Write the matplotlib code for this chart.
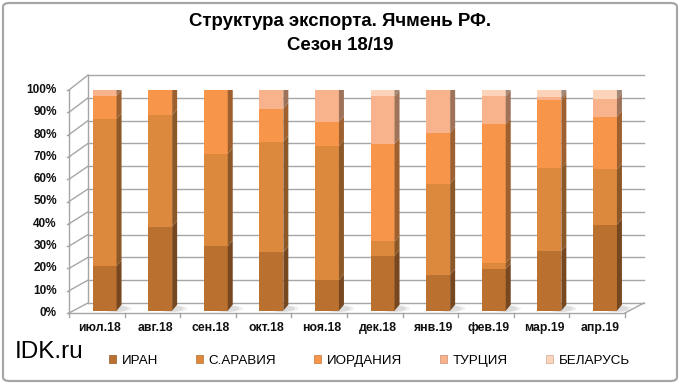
import numpy as np
import matplotlib
matplotlib.use('Agg')
import matplotlib.pyplot as plt
from matplotlib.patches import Polygon, Patch, FancyBboxPatch, Ellipse
from matplotlib.colors import to_rgb

plt.rcParams['font.family'] = ['Liberation Sans', 'DejaVu Sans']

# data (share of exports, %)
months = ['июл.18', 'авг.18', 'сен.18', 'окт.18', 'ноя.18',
          'дек.18', 'янв.19', 'фев.19', 'мар.19', 'апр.19']
iran = [19.8, 37.3, 28.6, 26.0, 13.6, 24.4, 16.0, 18.5, 26.4, 38.2]
saudi = [65.2, 49.4, 41.0, 49.0, 59.4, 6.3, 40.3, 2.7, 36.9, 24.5]
jordan = [10.3, 12.3, 30.0, 14.6, 10.7, 43.3, 22.5, 61.5, 30.0, 23.3]
turkey = [4.7, 1.0, 0.4, 8.2, 15.3, 21.0, 19.2, 12.3, 1.5, 7.8]
belarus = [0.0, 0.0, 0.0, 2.2, 1.0, 5.0, 2.0, 5.0, 5.2, 6.2]
series_names = ['ИРАН', 'С.АРАВИЯ', 'ИОРДАНИЯ', 'ТУРЦИЯ', 'БЕЛАРУСЬ']
yticks = [0, 10, 20, 30, 40, 50, 60, 70, 80, 90, 100]

colors = ['#BA7130', '#DC893E', '#F7964A', '#F9B38C', '#FCD4BA']

def shade(c, f):
    r, g, b = to_rgb(c)
    return (r * f, g * f, b * f)

W, H = 680, 384
fig = plt.figure(figsize=(W / 100, H / 100), dpi=100)

# outer rounded border
fig.patches.append(FancyBboxPatch((3 / W, 3 / H), 1 - 6 / W, 1 - 6 / H,
                                  boxstyle='round,pad=0,rounding_size=0.01',
                                  transform=fig.transFigure, fill=False,
                                  edgecolor='#A6A6A6', linewidth=1.6))

# front plane of the 3d box: x -0.5..9.5 -> 69..625 px, y 0..1 -> 313..90 px
ax = fig.add_axes([69 / W, (H - 313) / H, 556 / W, 223 / H])
ax.set_xlim(-0.5, 9.5)
ax.set_ylim(0, 1)
ax.axis('off')

n = len(months)
gc = '#A6A6A6'
wdx = 0.342                       # wall depth (x, data units)
def back_y(v):
    return 0.045 + v * 1.022      # back wall height mapping

# back wall gridlines + left wall
for t in yticks:
    v = t / 100
    ax.plot([-0.5 + wdx, n - 0.5 + wdx], [back_y(v)] * 2, color=gc, lw=1, clip_on=False, zorder=1)
    ax.plot([-0.5, -0.5 + wdx], [v, back_y(v)], color=gc, lw=1, clip_on=False, zorder=1)
    ax.plot([-0.5, -0.54], [v, v], color=gc, lw=1, clip_on=False, zorder=1)
    ax.text(-0.72, v, f'{t}%', ha='right', va='center', fontsize=8.5,
            fontweight='bold', color='#111111')
ax.plot([-0.5, -0.5], [0, 1], color=gc, lw=1, clip_on=False, zorder=1)
ax.plot([-0.5 + wdx, -0.5 + wdx], [back_y(0), back_y(1)], color=gc, lw=1, clip_on=False, zorder=1)
# floor
ax.plot([-0.5, n - 0.5], [0, 0], color=gc, lw=1, clip_on=False, zorder=1)
ax.plot([n - 0.5, n - 0.5 + wdx], [0, back_y(0)], color=gc, lw=1, clip_on=False, zorder=1)
for i in range(n + 1):
    ax.plot([i - 0.5, i - 0.5], [0, -0.02], color=gc, lw=1, clip_on=False, zorder=1)

# bars with pseudo 3d faces
x = np.arange(n)
bx = x + 0.14
bw = 0.43
off = 0.01
k = 1.012                         # bar height scale
ddx, ddy = 0.09, 0.027
series = [iran, saudi, jordan, turkey, belarus]

# soft floor shadows
for i in range(n):
    for a, sw in [(0.25, 0.58), (0.35, 0.44)]:
        ax.add_patch(Ellipse((bx[i] + 0.2, 0.02), sw, 0.03, facecolor='#BDBDBD',
                             edgecolor='none', alpha=a, zorder=2, clip_on=False))

bottom = np.zeros(n)
handles = []
for s, vals in enumerate(series):
    v = np.array(vals) / 100 * k
    c = colors[s]
    ax.bar(bx, v, bw, bottom=bottom + off, color=c, linewidth=0, zorder=3)
    for i in range(n):
        if v[i] <= 0:
            continue
        xr = bx[i] + bw / 2
        y0 = bottom[i] + off
        y1 = y0 + v[i]
        ax.add_patch(Polygon([(xr, y0), (xr + ddx, y0 + ddy), (xr + ddx, y1 + ddy), (xr, y1)],
                             closed=True, facecolor=shade(c, 0.64), edgecolor='none', zorder=3))
    bottom = bottom + v
    handles.append(Patch(facecolor=c, edgecolor=shade(c, 0.8), linewidth=0.5))

# top faces
for i in range(n):
    top_s = max(s for s in range(len(series)) if series[s][i] > 0)
    xl = bx[i] - bw / 2
    xr = bx[i] + bw / 2
    yt = bottom[i] + off
    ax.add_patch(Polygon([(xl, yt), (xr, yt), (xr + ddx, yt + ddy), (xl + ddx, yt + ddy)],
                         closed=True, facecolor=shade(colors[top_s], 0.8), edgecolor='none', zorder=4))

for i in range(n):
    ax.text(x[i] + 0.05, -0.067, months[i], ha='center', va='center',
            fontsize=8.8, fontweight='bold', color='#111111')

# title
fig.text(0.5, 1 - 22 / H, 'Структура экспорта. Ячмень РФ.', ha='center', va='center',
         fontsize=13.4, fontweight='bold')
fig.text(0.5, 1 - 45 / H, 'Сезон 18/19', ha='center', va='center',
         fontsize=13.4, fontweight='bold')

fig.text(15 / W, 1 - 352 / H, 'IDK.ru', ha='left', va='center', fontsize=17.5)

fig.legend(handles, series_names, loc='center left', bbox_to_anchor=(109 / W, 1 - 361 / H),
           ncol=5, frameon=False, fontsize=9.6, handlelength=0.5, handleheight=0.5,
           handletextpad=0.45, columnspacing=2.85, borderpad=0, borderaxespad=0)

fig.savefig('out.png', dpi=100, facecolor='white')
